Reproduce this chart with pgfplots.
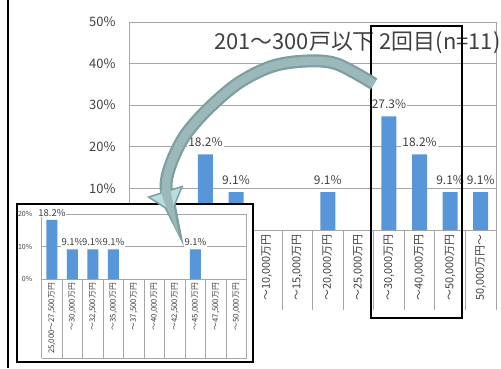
\documentclass[border=0pt]{standalone}
\usepackage{fontspec}
\setmainfont{Noto Sans CJK JP}
\usepackage{pgfplots}
\pgfplotsset{compat=1.18}
\usetikzlibrary{arrows.meta}

\definecolor{gridc}{HTML}{A6A6A6}
\definecolor{labc}{HTML}{404040}
\definecolor{barc}{HTML}{5796D8}
\definecolor{arrdark}{HTML}{7E9FA0}
\definecolor{arrmid}{HTML}{9BB9BA}
\definecolor{arrlight}{HTML}{B8DEE0}

\begin{document}
\begin{tikzpicture}[x=1bp,y=1bp]
\useasboundingbox (0,0) rectangle (501,368);

% outer frame line
\draw[black, line width=1.5bp] (8,0) -- (8,368);

% main chart
\begin{axis}[
  at={(129bp,138bp)}, anchor=south west,
  width=367bp, height=208bp, scale only axis,
  xmin=-0.5, xmax=11.5, ymin=0, ymax=50,
  ybar, bar width=15bp,
  /pgf/number format/assume math mode=true,
  axis line style={gridc, line width=0.8bp},
  tick pos=left,
  tick style={draw=gridc, line width=0.8bp},
  ytick={0,10,...,50},
  yticklabel={\pgfmathprintnumber{\tick}\%},
  yticklabel style={font=\fontsize{13}{14}\selectfont, text=labc, xshift=-10bp},
  ymajorgrids, grid style={gridc, line width=0.8bp},
  major tick length=0pt,
  xtick={0,...,11},
  xticklabels={{},{},{},{},{～10,000万円},{～15,000万円},{～20,000万円},{～25,000万円},{～30,000万円},{～40,000万円},{～50,000万円},{50,000万円～}},
  xticklabel style={rotate=90, anchor=east, inner xsep=4bp, font=\fontsize{11}{12}\selectfont, text=labc},
  extra x ticks={-0.5,0.5,...,11.5},
  extra x tick labels={},
  extra x tick style={major tick length=80bp, tick align=outside},
  nodes near coords={\pgfmathprintnumber[fixed,fixed zerofill,precision=1]{\pgfplotspointmeta}\%},
  nodes near coords style={font=\fontsize{12}{13}\selectfont, text=labc, fill=white, inner sep=1bp, anchor=base, yshift=8bp},
  clip=false,
]
\addplot[draw=none, fill=barc] coordinates {(2,18.2) (3,9.1) (6,9.1) (8,27.3) (9,18.2) (10,9.1) (11,9.1)};
\end{axis}

% title
\node[anchor=west, font=\fontsize{22}{24}\selectfont, text=labc, inner sep=0pt] at (214,325) {201～300戸以下 2回目(n=11)};

% highlight box
\draw[black, line width=2.5bp] (371,50) rectangle (462,342);

% inset frame
\fill[white] (17,6) rectangle (253,164);
\draw[black, line width=2bp] (17,6) rectangle (253,164);

% inset chart
\begin{axis}[
  at={(41.7bp,89bp)}, anchor=south west,
  width=205bp, height=65bp, scale only axis,
  xmin=-0.5, xmax=9.5, ymin=0, ymax=20,
  ybar, bar width=11bp,
  /pgf/number format/assume math mode=true,
  axis line style={gridc, line width=0.7bp},
  tick pos=left,
  tick style={draw=gridc, line width=0.7bp},
  ytick={0,10,20},
  yticklabel={\pgfmathprintnumber{\tick}\%},
  yticklabel style={font=\fontsize{7}{8}\selectfont, text=labc, xshift=-6bp},
  ymajorgrids, grid style={gridc, line width=0.7bp},
  major tick length=0pt,
  xtick={0,...,9},
  xticklabels={{25,000～27,500万円},{～30,000万円},{～32,500万円},{～35,000万円},{～37,500万円},{～40,000万円},{～42,500万円},{～45,000万円},{～47,500万円},{～50,000万円}},
  xticklabel style={rotate=90, anchor=east, inner xsep=4bp, font=\fontsize{7.8}{8}\selectfont, text=labc},
  extra x ticks={-0.5,0.5,...,9.5},
  extra x tick labels={},
  extra x tick style={major tick length=79bp, tick align=outside},
  nodes near coords={\pgfmathprintnumber[fixed,fixed zerofill,precision=1]{\pgfplotspointmeta}\%},
  nodes near coords style={font=\fontsize{9.5}{10}\selectfont, text=labc, fill=white, inner sep=0.5bp, anchor=base, yshift=3.5bp},
  clip=false,
]
\addplot[draw=none, fill=barc] coordinates {(0,18.2) (1,9.1) (2,9.1) (3,9.1) (7,9.1)};
\draw[gridc, line width=0.7bp] ([yshift=-79bp]axis cs:-0.5,0) -- ([yshift=-79bp]axis cs:9.5,0);
\end{axis}

% curved arrow
\draw[arrdark, line width=13bp, -{Triangle[width=38bp,length=23bp,line width=1.5bp,fill=arrlight]}]
  plot[smooth, tension=0.55] coordinates {(374,284) (337,304) (307,307) (273,302) (240,286) (210,261) (186,234) (172,207) (166,182) (172,155)};
\draw[arrmid, line width=8.5bp, shorten >=24bp]
  plot[smooth, tension=0.55] coordinates {(374,284) (337,304) (307,307) (273,302) (240,286) (210,261) (186,234) (172,207) (166,182) (172,155)};

\end{tikzpicture}
\end{document}
